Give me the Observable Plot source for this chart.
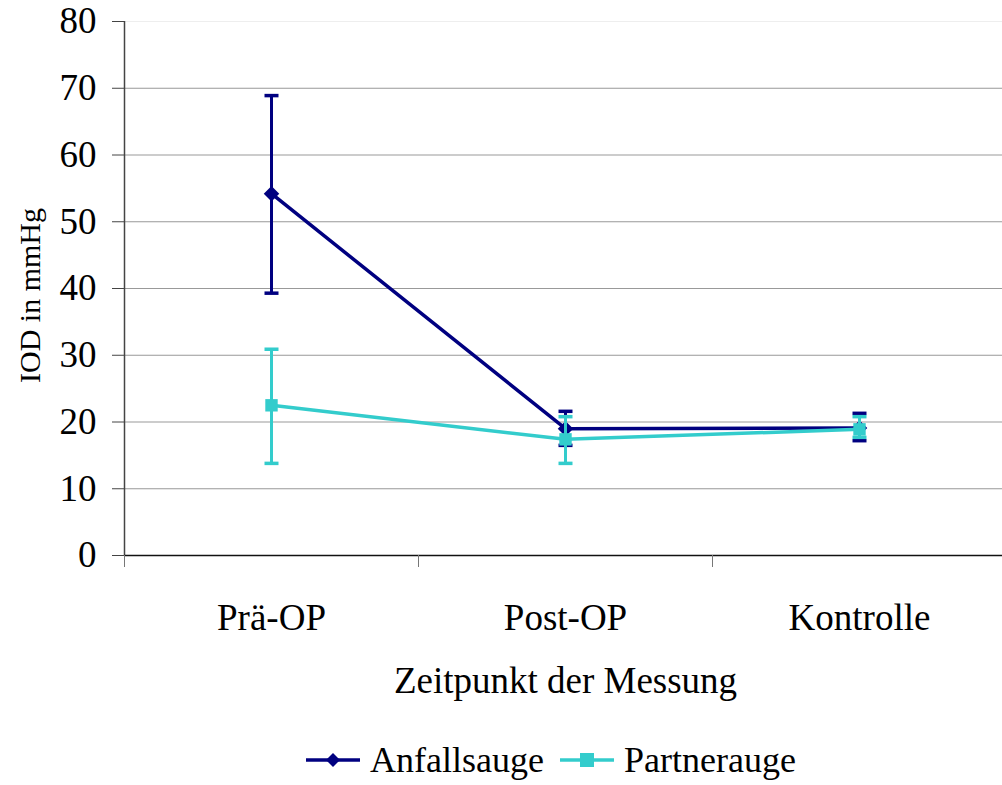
<!DOCTYPE html>
<html>
<head>
<meta charset="utf-8">
<script src="https://cdn.jsdelivr.net/npm/d3@7"></script>
<script src="https://cdn.jsdelivr.net/npm/@observablehq/plot@0.6"></script>
<style>
  html, body { margin: 0; padding: 0; background: #fff; }
  #wrap { width: 1002px; font-family: "Liberation Serif", "Times New Roman", serif; }
  #legend { display: flex; justify-content: center; align-items: center; height: 65px; padding-top: 15px; padding-left: 100px; box-sizing: border-box; width: 1002px; font-size: 36px; color: #000; }
  #legend .item { display: flex; align-items: center; margin: 0 8px; }
  #legend svg { margin-right: 10px; }
</style>
</head>
<body>
<div id="wrap"></div>
<script>
const categories = ["Prä-OP", "Post-OP", "Kontrolle"];
const seriesNames = ["Anfallsauge", "Partnerauge"];
const seriesColors = ["#000080", "#33CCCC"];
const anfallMean = [54.2, 19.0, 19.1];
const anfallLow  = [39.3, 16.5, 17.2];
const anfallHigh = [68.9, 21.6, 21.3];
const partnerMean = [22.5, 17.4, 18.9];
const partnerLow  = [13.8, 13.8, 17.7];
const partnerHigh = [30.9, 20.8, 20.8];
const yTicks = [0, 10, 20, 30, 40, 50, 60, 70, 80];
const xLabel = "Zeitpunkt der Messung";
const yLabel = "IOD in mmHg";

const seriesData = [
  {name: seriesNames[0], mean: anfallMean, low: anfallLow, high: anfallHigh, symbol: "diamond2"},
  {name: seriesNames[1], mean: partnerMean, low: partnerLow, high: partnerHigh, symbol: "square"}
];
const rows = seriesData.flatMap(s => categories.map((c, i) => ({
  series: s.name, cat: c, x: i + 0.5, mean: s.mean[i], low: s.low[i], high: s.high[i], symbol: s.symbol
})));
const catRows = categories.map((c, i) => ({cat: c, x: i + 0.5}));

const capSymbol = {
  draw(context, size) {
    const w = 7;
    context.moveTo(-w, 0);
    context.lineTo(w, 0);
  }
};

const marks = [
  Plot.ruleY(yTicks.filter(d => d > 0 && d < 80), {stroke: "#999", strokeWidth: 1.2}),
  Plot.ruleY([80], {stroke: "#eee", strokeWidth: 1}),
  Plot.ruleX([0], {stroke: "#444", strokeWidth: 1.5}),
  Plot.ruleY([0], {stroke: "#111", strokeWidth: 1.5}),
  Plot.axisY({ticks: yTicks, tickSize: 12, tickPadding: 16, fontSize: 37, label: null, stroke: "#444", color: "#000", fill: "#000"}),
  Plot.axisX({ticks: [0, 1, 2, 3], tickSize: 12, tickFormat: () => "", label: null, stroke: "#777"}),
  Plot.text(catRows, {x: "x", text: "cat", frameAnchor: "bottom", dy: 74, fontSize: 37, fill: "#000"}),
  Plot.text([xLabel], {frameAnchor: "bottom", dy: 137, fontSize: 37, fill: "#000"}),
  Plot.text([yLabel], {frameAnchor: "left", textAnchor: "middle", rotate: -90, dx: -94, dy: 7, fontSize: 30, fill: "#000"})
];
seriesData.forEach((s, k) => {
  const data = rows.filter(r => r.series === s.name);
  const col = seriesColors[k];
  marks.push(
    Plot.line(data, {x: "x", y: "mean", stroke: col, strokeWidth: 3.5}),
    Plot.ruleX(data, {x: "x", y1: "low", y2: "high", stroke: col, strokeWidth: 3}),
    Plot.dot(data, {x: "x", y: "high", symbol: capSymbol, stroke: col, strokeWidth: 3.5, r: 5}),
    Plot.dot(data, {x: "x", y: "low", symbol: capSymbol, stroke: col, strokeWidth: 3.5, r: 5}),
    Plot.dot(data, {x: "x", y: "mean", symbol: s.symbol, fill: col, stroke: "none", r: k === 0 ? 7 : 7})
  );
});

const chart = Plot.plot({
  width: 1002,
  height: 720,
  marginLeft: 124,
  marginRight: -4,
  marginTop: 21,
  marginBottom: 165,
  style: {fontFamily: "'Liberation Serif', 'Times New Roman', serif", background: "#fff"},
  x: {type: "linear", domain: [0, 3], axis: null},
  y: {domain: [0, 80], axis: null},
  marks
});

const wrap = document.getElementById("wrap");
wrap.appendChild(chart);

const legend = document.createElement("div");
legend.id = "legend";
seriesData.forEach((s, k) => {
  const item = document.createElement("div");
  item.className = "item";
  const sw = d3.create("svg").attr("width", 54).attr("height", 20);
  sw.append("line").attr("x1", 0).attr("x2", 54).attr("y1", 10).attr("y2", 10)
    .attr("stroke", seriesColors[k]).attr("stroke-width", 3.5);
  if (k === 0) {
    sw.append("path").attr("d", "M27,3L34,10L27,17L20,10Z").attr("fill", seriesColors[k]);
  } else {
    sw.append("rect").attr("x", 20).attr("y", 3).attr("width", 14).attr("height", 14).attr("fill", seriesColors[k]);
  }
  item.appendChild(sw.node());
  const t = document.createElement("span");
  t.textContent = s.name;
  item.appendChild(t);
  legend.appendChild(item);
});
wrap.appendChild(legend);
</script>
</body>
</html>
